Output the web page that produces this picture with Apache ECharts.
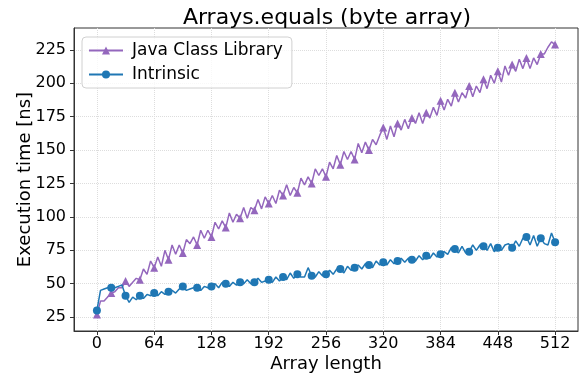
<!DOCTYPE html>
<html>
<head>
<meta charset="utf-8">
<script src="https://cdn.jsdelivr.net/npm/echarts@6/dist/echarts.min.js"></script>
<style>
  html, body { margin: 0; padding: 0; background: #fff; }
  #chart { width: 580px; height: 377px; }
</style>
</head>
<body>
<div id="chart"></div>
<script>
const arrayLength = [
  0, 4, 8, 12, 16, 20, 24, 28, 32, 36, 40, 44, 48, 52, 56, 60,
  64, 68, 72, 76, 80, 84, 88, 92, 96, 100, 104, 108, 112, 116, 120, 124,
  128, 132, 136, 140, 144, 148, 152, 156, 160, 164, 168, 172, 176, 180, 184, 188,
  192, 196, 200, 204, 208, 212, 216, 220, 224, 228, 232, 236, 240, 244, 248, 252,
  256, 260, 264, 268, 272, 276, 280, 284, 288, 292, 296, 300, 304, 308, 312, 316,
  320, 324, 328, 332, 336, 340, 344, 348, 352, 356, 360, 364, 368, 372, 376, 380,
  384, 388, 392, 396, 400, 404, 408, 412, 416, 420, 424, 428, 432, 436, 440, 444,
  448, 452, 456, 460, 464, 468, 472, 476, 480, 484, 488, 492, 496, 500, 504, 508,
  512
];

const javaClassLibrary = [
  27, 37, 37, 40, 43, 44, 47, 47, 52, 48, 51, 54, 53, 61, 57, 67,
  62, 70, 63, 75, 68, 79, 72, 79, 73, 83, 80, 85, 79, 90, 84, 90,
  85, 96, 91, 97, 92, 103, 96, 102, 99, 107, 99, 107, 105, 113, 106, 115,
  110, 116, 110, 120, 116, 124, 116, 122, 118, 129, 124, 130, 125, 136, 131, 136,
  130, 141, 136, 146, 139, 149, 143, 149, 143, 155, 148, 156, 150, 158, 154, 161,
  167, 158, 168, 160, 170, 165, 173, 166, 174, 170, 178, 170, 178, 174, 182, 176,
  187, 180, 188, 183, 193, 186, 193, 189, 198, 190, 198, 193, 203, 196, 206, 200,
  209, 201, 213, 206, 214, 209, 218, 211, 219, 211, 219, 214, 222, 222, 227, 231,
  229
];

const intrinsic = [
  30, 45, 46, 47, 47, 47, 48, 49, 41, 36, 40, 38, 41, 39, 42, 41,
  43, 41, 44, 42, 44, 45, 43, 46, 48, 45, 46, 47, 47, 45, 48, 47,
  48, 50, 47, 51, 50, 48, 51, 49, 51, 50, 53, 50, 51, 54, 51, 52,
  53, 51, 55, 52, 55, 53, 58, 54, 57, 55, 55, 62, 56, 55, 59, 56,
  57, 60, 57, 61, 61, 58, 63, 60, 62, 64, 61, 65, 64, 62, 67, 64,
  66, 64, 68, 65, 67, 69, 66, 69, 68, 67, 71, 68, 71, 69, 73, 70,
  72, 74, 72, 77, 76, 73, 78, 73, 74, 79, 75, 79, 78, 75, 80, 74,
  77, 75, 79, 80, 77, 82, 78, 84, 85, 79, 86, 78, 84, 80, 79, 88,
  81
];

const xTicks = [0, 64, 128, 192, 256, 320, 384, 448, 512];
const yTicks = [25, 50, 75, 100, 125, 150, 175, 200, 225];

const pairs = (ys) => arrayLength.map((x, i) => [x, ys[i]]);
// marker on every 16th array length, like markevery
const markEvery = (size) => (val, params) => (params.dataIndex % 4 === 0 ? size : 0);

const font = "DejaVu Sans";
const chart = echarts.init(document.getElementById("chart"));

chart.setOption({
  animation: false,
  textStyle: { fontFamily: font },
  title: {
    text: "Arrays.equals (byte array)",
    left: 322,
    top: 2,
    textAlign: "center",
    textStyle: { fontFamily: font, fontSize: 22, fontWeight: "normal", color: "#000" },
  },
  legend: {
    orient: "vertical",
    left: 82,
    top: 37,
    padding: [5, 9, 5, 6],
    itemWidth: 34,
    itemHeight: 10,
    itemGap: 7,
    borderColor: "#d0d0d0",
    borderWidth: 1,
    borderRadius: 4,
    backgroundColor: "rgba(255,255,255,0.8)",
    textStyle: { fontFamily: font, fontSize: 17, color: "#000", padding: [0, 0, 0, 4] },
    data: ["Java Class Library", "Intrinsic"],
  },
  grid: {
    left: 74,
    right: 2,
    top: 28,
    bottom: 46,
    outerBoundsMode: "none",
    show: true,
    borderColor: "#333",
    borderWidth: 1,
  },
  xAxis: {
    type: "value",
    min: -25.6,
    max: 537.6,
    name: "Array length",
    nameLocation: "middle",
    nameGap: 24,
    nameMoveOverlap: false,
    nameTextStyle: { fontFamily: font, fontSize: 18, color: "#000" },
    axisLine: { onZero: false, lineStyle: { color: "#333" } },
    axisTick: { show: true, length: 4, customValues: xTicks, lineStyle: { color: "#333" } },
    axisLabel: { customValues: xTicks, fontSize: 16, color: "#000", margin: 5 },
    splitLine: { show: true, lineStyle: { color: "#ddd", type: "dotted" } },
  },
  yAxis: {
    type: "value",
    min: 14.6,
    max: 241.4,
    name: "Execution time [ns]",
    nameLocation: "middle",
    nameGap: 40,
    nameMoveOverlap: false,
    nameTextStyle: { fontFamily: font, fontSize: 18, color: "#000" },
    axisLine: { show: true, onZero: false, lineStyle: { color: "#333" } },
    axisTick: { show: true, length: 4, customValues: yTicks, lineStyle: { color: "#333" } },
    axisLabel: { customValues: yTicks, fontSize: 16, color: "#000", margin: 8 },
    splitLine: { show: true, lineStyle: { color: "#ddd", type: "dotted" } },
  },
  series: [
    {
      name: "Java Class Library",
      type: "line",
      data: pairs(javaClassLibrary),
      color: "#9467bd",
      lineStyle: { width: 1.5 },
      symbol: "triangle",
      symbolSize: markEvery(8),
      showAllSymbol: true,
      z: 2,
    },
    {
      name: "Intrinsic",
      type: "line",
      data: pairs(intrinsic),
      color: "#1f77b4",
      lineStyle: { width: 1.5 },
      symbol: "circle",
      symbolSize: markEvery(8),
      showAllSymbol: true,
      z: 3,
    },
  ],
});
</script>
</body>
</html>
